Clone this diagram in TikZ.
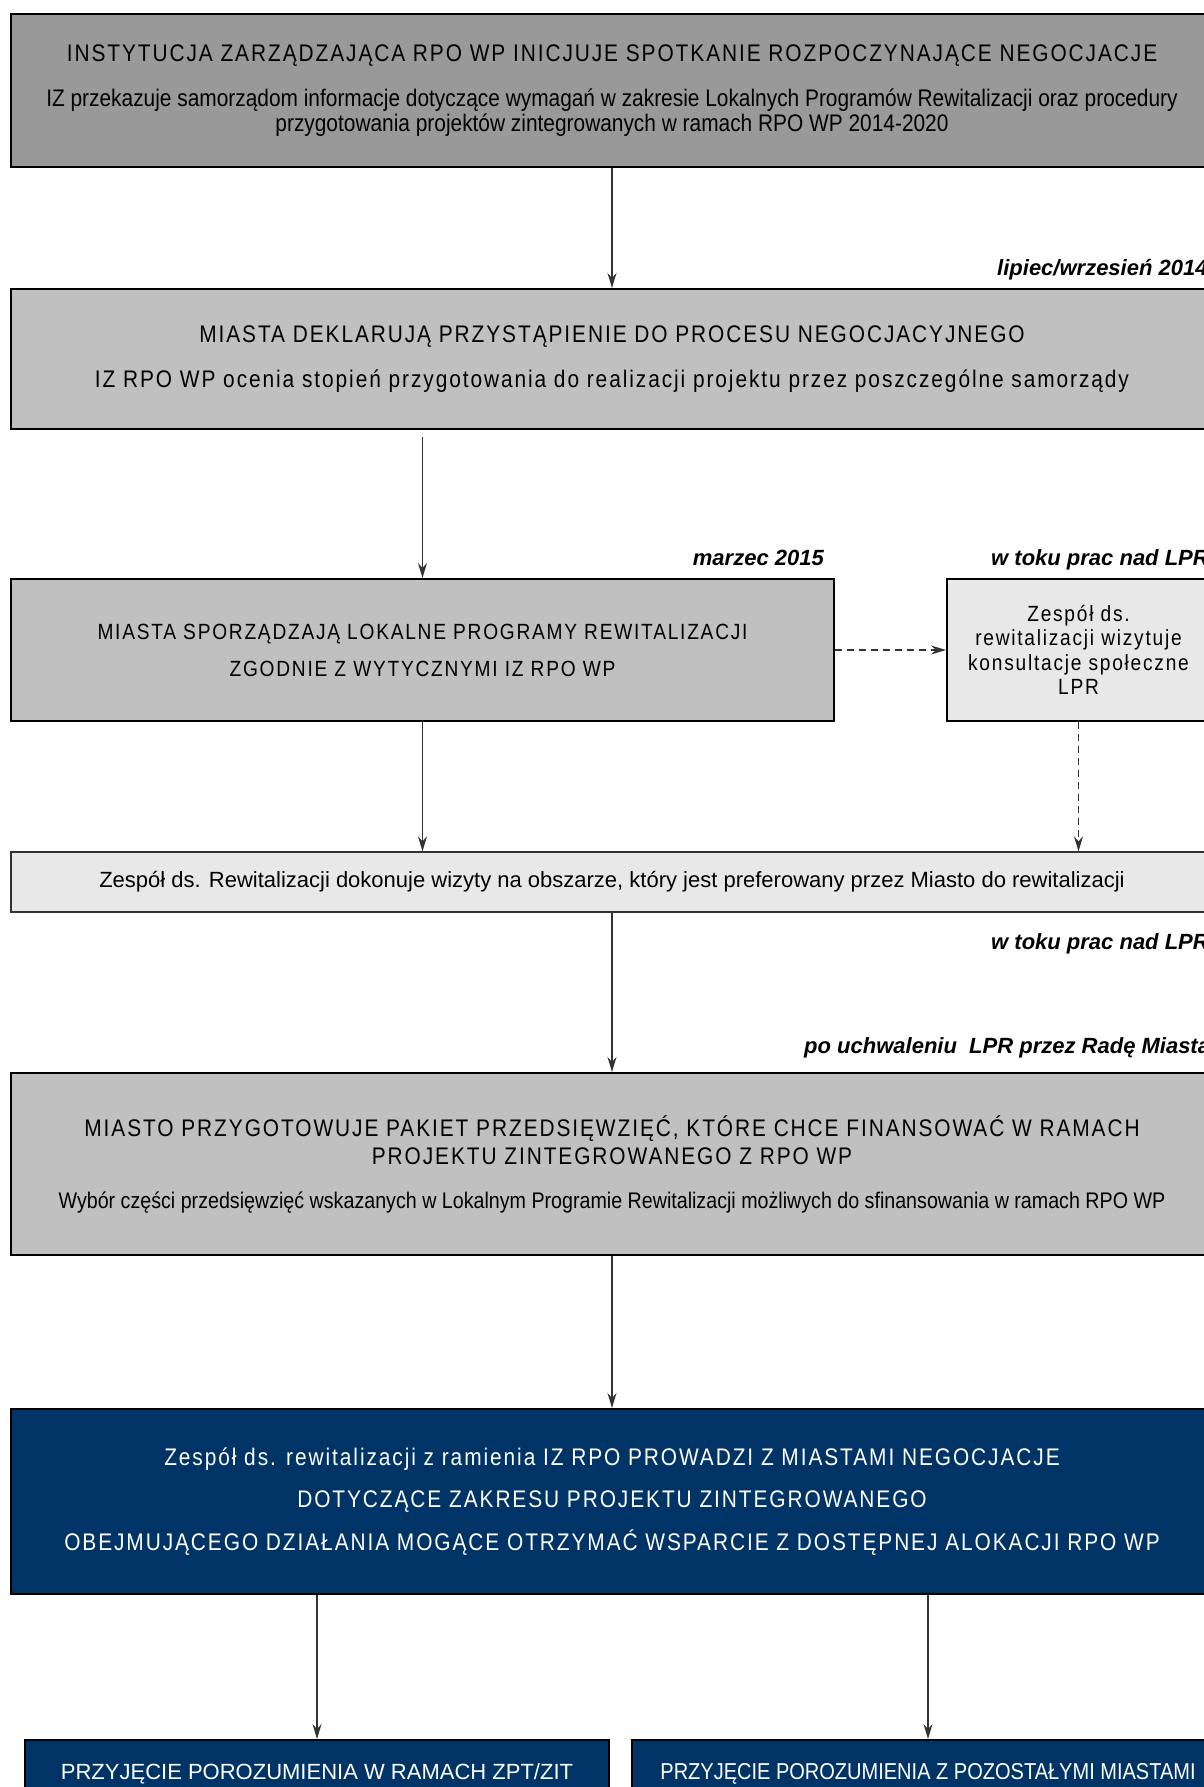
\documentclass[tikz,border=0pt]{standalone}
\usepackage{fontspec}
\setmainfont{Liberation Sans}
\newfontfamily\narrow[FakeStretch=0.87]{Liberation Sans}
\newfontfamily\narrowsp[FakeStretch=0.87,LetterSpace=8]{Liberation Sans}
\usetikzlibrary{arrows.meta}

\definecolor{grayA}{HTML}{999999}
\definecolor{grayB}{HTML}{C0C0C0}
\definecolor{grayC}{HTML}{E8E8E8}
\definecolor{navy}{HTML}{003366}
\definecolor{linegray}{HTML}{333333}

\tikzset{
  box/.style={draw=black, line width=2pt, rectangle, align=center, inner sep=0pt,
    font=\fontsize{24}{25}\selectfont},
  thinbox/.style={box, draw=linegray, line width=1.3pt},
  navybox/.style={box, fill=navy, text=white},
  when/.style={inner sep=0pt, font=\fontsize{22}{24}\selectfont\bfseries\itshape},
  flow/.style={draw=linegray, line width=1.4pt, -{Stealth[length=15pt,width=9pt,inset=5pt]}},
}

\begin{document}
\begin{tikzpicture}[x=1pt,y=-1pt]
\useasboundingbox (0,0) rectangle (1203,1787);

\node[box, fill=grayA, minimum width=1202pt, minimum height=153pt] (init) at (612,90.5)
  {{\narrowsp INSTYTUCJA ZARZĄDZAJĄCA RPO WP INICJUJE SPOTKANIE ROZPOCZYNAJĄCE NEGOCJACJE}\\[20pt]
   \narrow IZ przekazuje samorządom informacje dotyczące wymagań w zakresie Lokalnych Programów Rewitalizacji oraz procedury\\
   \narrow przygotowania projektów zintegrowanych w ramach RPO WP 2014-2020};

\node[box, fill=grayB, minimum width=1202pt, minimum height=140pt] (deklar) at (612,359)
  {\narrowsp MIASTA DEKLARUJĄ PRZYSTĄPIENIE DO PROCESU NEGOCJACYJNEGO\\[20pt]
   \narrowsp IZ RPO WP ocenia stopień przygotowania do realizacji projektu przez poszczególne samorządy};

\node[box, fill=grayB, minimum width=823pt, minimum height=142pt,
      font=\fontsize{22}{25}\selectfont] (lpr) at (422.5,650)
  {\narrowsp MIASTA SPORZĄDZAJĄ LOKALNE PROGRAMY REWITALIZACJI\\[12pt]
   \narrowsp ZGODNIE Z WYTYCZNYMI IZ RPO WP};

\node[box, fill=grayC, minimum width=263pt, minimum height=142pt,
      font=\fontsize{22}{24.5}\selectfont] (konsult) at (1078.5,650)
  {\narrowsp Zespół ds.\\ \narrowsp rewitalizacji wizytuje\\ \narrowsp konsultacje społeczne\\ \narrowsp LPR};

\node[thinbox, fill=grayC, minimum width=1202pt, minimum height=60pt,
      font=\fontsize{22}{25}\selectfont] (wizyta) at (612,882)
  {Zespół ds. Rewitalizacji dokonuje wizyty na obszarze, który jest preferowany przez Miasto do rewitalizacji};

\node[box, fill=grayB, minimum width=1202pt, minimum height=182pt,
      font=\fontsize{24}{28}\selectfont] (pakiet) at (612,1164)
  {\narrowsp MIASTO PRZYGOTOWUJE PAKIET PRZEDSIĘWZIĘĆ, KTÓRE CHCE FINANSOWAĆ W RAMACH\\
   \narrowsp PROJEKTU ZINTEGROWANEGO Z RPO WP\\[16pt]
   \fontsize{22.6}{28}\narrow Wybór części przedsięwzięć wskazanych w Lokalnym Programie Rewitalizacji możliwych do sfinansowania w ramach RPO WP};

\node[navybox, minimum width=1202pt, minimum height=185pt] (negocj) at (612,1501.5)
  {\narrowsp Zespół ds. rewitalizacji z ramienia IZ RPO PROWADZI Z MIASTAMI NEGOCJACJE\\[17pt]
   \narrowsp DOTYCZĄCE ZAKRESU PROJEKTU ZINTEGROWANEGO\\[17pt]
   \narrowsp OBEJMUJĄCEGO DZIAŁANIA MOGĄCE OTRZYMAĆ WSPARCIE Z DOSTĘPNEJ ALOKACJI RPO WP};

\node[navybox, minimum width=584pt, minimum height=90pt, text depth=0pt,
      font=\fontsize{22}{25}\selectfont] (zit) at (317,1785)
  {\raisebox{27pt}{PRZYJĘCIE POROZUMIENIA W RAMACH ZPT/ZIT}};
\node[navybox, minimum width=592pt, minimum height=90pt, text depth=0pt,
      font=\fontsize{23}{25}\selectfont] (miasta) at (928,1785)
  {\raisebox{27pt}{\narrow PRZYJĘCIE POROZUMIENIA Z POZOSTAŁYMI MIASTAMI}};

% terminy
\node[when, anchor=base west] (lipiec) at (997,276) {lipiec/wrzesień 2014};
\node[when, anchor=base east] (marzec) at (824,565) {marzec 2015};
\node[when, anchor=base west] (toku1) at (991,565) {w toku prac nad LPR};
\node[when, anchor=base west] (toku2) at (991,949) {w toku prac nad LPR};
\node[when, anchor=base west] (uchwal) at (804,1053) {po uchwaleniu\ \ LPR przez Radę Miasta};

% polaczenia
\draw[flow] (init.south) -- (deklar.north);
\draw[flow, shorten <=7pt] (deklar.south -| lpr.north) -- (lpr.north);
\draw[flow, dash pattern=on 7pt off 5pt] (lpr.east) -- (konsult.west);
\draw[flow, dash pattern=on 7pt off 5pt] (konsult.south) -- (konsult.south |- wizyta.north);
\draw[flow] (lpr.south) -- (lpr.south |- wizyta.north);
\draw[flow] (wizyta.south) -- (pakiet.north);
\draw[flow] (pakiet.south) -- (negocj.north);
\draw[flow] (zit.north |- negocj.south) -- (zit.north);
\draw[flow] (miasta.north |- negocj.south) -- (miasta.north);
\end{tikzpicture}
\end{document}
